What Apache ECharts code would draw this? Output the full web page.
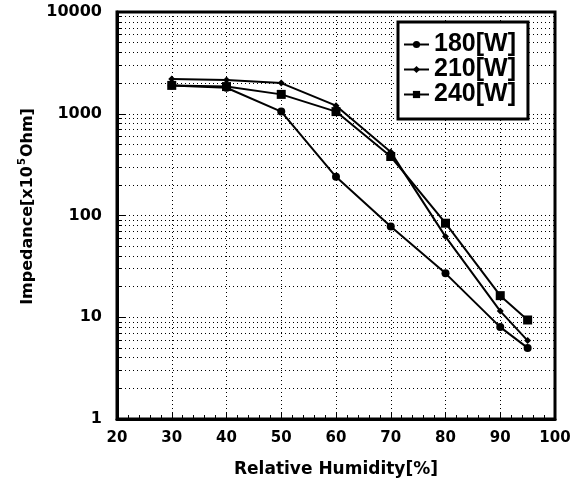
<!DOCTYPE html>
<html>
<head>
<meta charset="utf-8">
<script src="https://cdn.jsdelivr.net/npm/echarts@6/dist/echarts.min.js"></script>
<style>html,body{margin:0;padding:0;background:#fff}#c{width:574px;height:490px}</style>
</head>
<body>
<div id="c"></div>
<script>
// ---- data ----
const humidity = [30, 40, 50, 60, 70, 80, 90, 95];
const w180 = [1900, 1800, 1050, 240, 78, 27, 8, 5];
const w210 = [2200, 2150, 2000, 1200, 420, 62, 11.5, 5.9];
const w240 = [1900, 1850, 1550, 1050, 380, 84, 16.3, 9.4];
const seriesNames = ['180[W]', '210[W]', '240[W]'];
const xTicks = [20, 30, 40, 50, 60, 70, 80, 90, 100];
const yTicks = [1, 10, 100, 1000, 10000];
const minorMultipliers = [2, 3, 4, 5, 6, 7, 8, 9];
const decades = [1, 10, 100, 1000];

const minorY = [];
decades.forEach(d => minorMultipliers.forEach(m => minorY.push(d * m)));

const pairs = arr => humidity.map((h, i) => [h, arr[i]]);
const FONT = 'DejaVu Sans';

const chart = echarts.init(document.getElementById('c'), null, {renderer: 'canvas'});
chart.setOption({
  animation: false,
  backgroundColor: '#fff',
  grid: {left: 117, right: 19, top: 12, bottom: 71, show: true, borderColor: '#000', borderWidth: 3, backgroundColor: 'transparent'},
  legend: {
    orient: 'vertical', left: 398, top: 22,
    padding: [10, 12, 12, 5],
    borderColor: '#000', borderWidth: 3, backgroundColor: '#fff',
    itemGap: 0, itemWidth: 25, itemHeight: 9,
    data: seriesNames,
    textStyle: {fontFamily: 'Liberation Sans', fontWeight: 'bold', fontSize: 25, color: '#000', lineHeight: 25},
    z: 10
  },
  xAxis: {
    type: 'value', min: xTicks[0], max: xTicks[xTicks.length - 1], interval: 10,
    axisLine: {show: true, lineStyle: {color: '#000', width: 3}},
    axisTick: {show: true, inside: true, length: 6, lineStyle: {color: '#000', width: 1}},
    minorTick: {show: true, splitNumber: 5, length: 4, lineStyle: {color: '#000', width: 1}},
    splitLine: {show: true, lineStyle: {color: '#000', width: 1, type: [1, 3]}},
    axisLabel: {fontFamily: FONT, fontWeight: 'bold', fontSize: 15, color: '#000', margin: 12},
    name: 'Relative Humidity[%]', nameLocation: 'middle', nameGap: 42,
    nameTextStyle: {fontFamily: FONT, fontWeight: 'bold', fontSize: 17, color: '#000'}
  },
  yAxis: {
    type: 'log', logBase: 10, min: yTicks[0], max: yTicks[yTicks.length - 1],
    axisLine: {show: true, lineStyle: {color: '#000', width: 3}},
    axisTick: {show: true, inside: true, length: 8, lineStyle: {color: '#000', width: 1}},
    splitLine: {show: true, lineStyle: {color: '#000', width: 1, type: [1, 3]}},
    axisLabel: {fontFamily: FONT, fontWeight: 'bold', fontSize: 16, color: '#000', margin: 15,
      formatter: v => String(Math.round(v))},
    name: 'Impedance[x10{s|5}Ohm]', nameLocation: 'middle', nameGap: 78,
    nameTextStyle: {fontFamily: FONT, fontWeight: 'bold', fontSize: 16, color: '#000', padding: [0, 0, 0, 18],
      rich: {s: {fontFamily: FONT, fontWeight: 'bold', fontSize: 10, color: '#000', verticalAlign: 'top', padding: [0, 1, 10, 1]}}}
  },
  series: [
    {
      name: seriesNames[0], type: 'line', data: pairs(w180),
      symbol: 'circle', symbolSize: 8,
      lineStyle: {color: '#000', width: 2}, itemStyle: {color: '#000'},
      markLine: {
        silent: true, symbol: ['none', 'none'], label: {show: false},
        lineStyle: {color: '#000', width: 1, type: [1, 3]},
        data: minorY.map(v => ({yAxis: v}))
      }
    },
    {
      name: seriesNames[1], type: 'line', data: pairs(w210),
      symbol: 'diamond', symbolSize: 7,
      lineStyle: {color: '#000', width: 2}, itemStyle: {color: '#000'},
      markLine: {
        silent: true, symbol: ['none', 'none'], label: {show: false},
        lineStyle: {color: '#000', width: 1, type: 'solid'},
        data: minorY.map(v => [{coord: [xTicks[0], v]}, {coord: [xTicks[0] + 0.9, v]}])
      }
    },
    {
      name: seriesNames[2], type: 'line', data: pairs(w240),
      symbol: 'rect', symbolSize: 9,
      lineStyle: {color: '#000', width: 2}, itemStyle: {color: '#000'}
    }
  ]
});
</script>
</body>
</html>
